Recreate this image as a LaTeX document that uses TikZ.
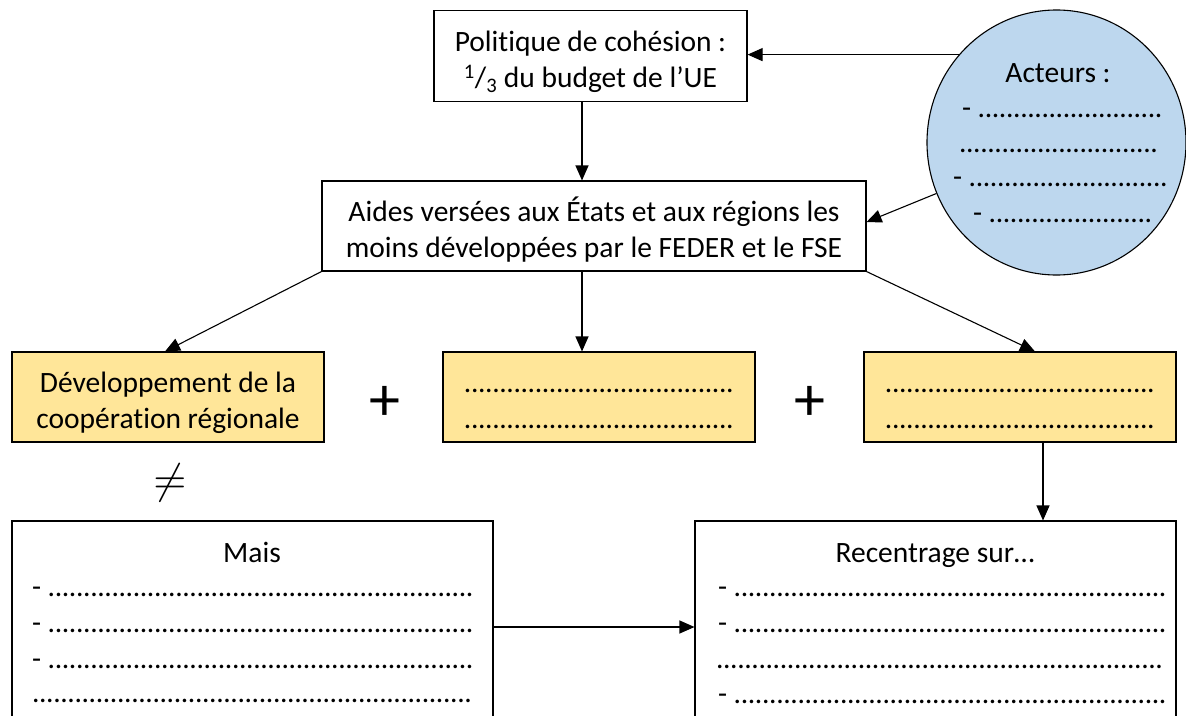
\documentclass[tikz,border=0pt]{standalone}
\usepackage{fontspec}
\usepackage{graphicx}
\setmainfont{Carlito}[Ligatures=NoCommon]
\usetikzlibrary{arrows.meta,shapes.geometric}
\definecolor{boxyellow}{HTML}{FFE699}
\definecolor{circblue}{HTML}{BDD7EE}
\ExplSyntaxOn
\cs_new:Npn \dotrow #1 { \prg_replicate:nn {#1} { \hbox_to_wd:nn {7.1pt} { \hss . \hss } } }
\ExplSyntaxOff
\tikzset{
  txt/.style={font=\fontsize{29.5}{36}\selectfont},
  plainbox/.style={draw=black,line width=1.1pt,fill=white,rectangle,inner sep=0pt,align=center,txt,
    text height=69pt,text depth=6pt},
  emptybox/.style={draw=black,line width=1.1pt,fill=white,rectangle,inner sep=0pt},
  yelbox/.style={plainbox,fill=boxyellow},
  arr/.style={draw=black,line width=1.1pt,-{Triangle[width=13pt,length=15pt]}},
  rowtxt/.style={txt,anchor=base west,inner sep=0pt},
  symb/.style={inner sep=0pt,font=\fontsize{62}{62}\selectfont},
}
\begin{document}
\begin{tikzpicture}[x=1pt,y=-1pt]
\useasboundingbox (0,0) rectangle (1186,715);
\clip (0,0) rectangle (1186,715);
% boxes
\node[plainbox,minimum width=313pt,minimum height=91pt] (pol) at (590.5,56)
  {Politique de cohésion :\\\textsuperscript{1}/\textsubscript{3} du budget de l’UE};
\node[plainbox,minimum width=544pt,minimum height=90pt] (aides) at (594,226)
  {Aides versées aux États et aux régions les\\moins développées par le FEDER et le FSE};
\node[yelbox,minimum width=312pt,minimum height=90pt] (b1) at (168,397)
  {Développement de la\\coopération régionale};
\node[yelbox,minimum width=312pt,minimum height=90pt] (b2) at (599,397)
  {\dotrow{38}\\\dotrow{38}};
\node[yelbox,minimum width=312pt,minimum height=90pt] (b3) at (1020,397)
  {\dotrow{38}\\\dotrow{38}};
\node[emptybox,minimum width=481pt,minimum height=240pt] (mais) at (252.5,641) {};
\node[emptybox,minimum width=481pt,minimum height=240pt] (rec) at (935.5,641) {};
\node[ellipse,draw=black,line width=1.1pt,fill=circblue,minimum width=259pt,minimum height=265pt,inner sep=0pt] (act) at (1056.5,142.5) {};
% symbols
\node[symb] (plus1) at (385,403.5) {+};
\node[symb] (plus2) at (810,403.5) {+};
\node[inner sep=0pt] (neq) at (170,483) {\scalebox{4.25}{$\neq$}};
% Acteurs text
\node[txt,anchor=base,inner sep=0pt] (acttitle) at (1058,82) {Acteurs :};
\node[rowtxt] (a1) at (962,117) {- \dotrow{26}};
\node[rowtxt] (a2) at (959,152) {\dotrow{28}};
\node[rowtxt] (a3) at (953,186) {- \dotrow{28}};
\node[rowtxt] (a4) at (973,222) {- \dotrow{23}};
% Mais text
\node[txt,anchor=base,inner sep=0pt] (maistitle) at (252,562) {Mais};
\node[rowtxt] (m1) at (32,596) {- \dotrow{60}};
\node[rowtxt] (m2) at (32,632) {- \dotrow{60}};
\node[rowtxt] (m3) at (32,668) {- \dotrow{60}};
\node[rowtxt] (m4) at (32,702) {\dotrow{62}};
% Recentrage text
\node[txt,anchor=base,inner sep=0pt] (rectitle) at (935,562) {Recentrage sur…};
\node[rowtxt] (r1) at (718,596) {- \dotrow{61}};
\node[rowtxt] (r2) at (718,632) {- \dotrow{61}};
\node[rowtxt] (r3) at (716,668) {\dotrow{63}};
\node[rowtxt] (r4) at (718,703) {- \dotrow{61}};
% helper coordinates
\coordinate (x582) at (582,0);
\coordinate (x165) at (165,0);
\coordinate (x1035) at (1035,0);
\coordinate (x1043) at (1043,0);
\coordinate (y627) at (0,627);
\coordinate (y222) at (0,222);
% connectors
\draw[arr] (act.138) -- (pol.east |- act.138);
\draw[arr] (pol.south -| x582) -- (aides.north -| x582);
\draw[arr] (act.203) -- (aides.east |- y222);
\draw[arr] (aides.south west) -- (b1.north -| x165);
\draw[arr] (aides.south -| x582) -- (b2.north -| x582);
\draw[arr] (aides.south east) -- (b3.north -| x1035);
\draw[arr] (b3.south -| x1043) -- (rec.north -| x1043);
\draw[arr] (mais.east |- y627) -- (rec.west |- y627);
\end{tikzpicture}
\end{document}
